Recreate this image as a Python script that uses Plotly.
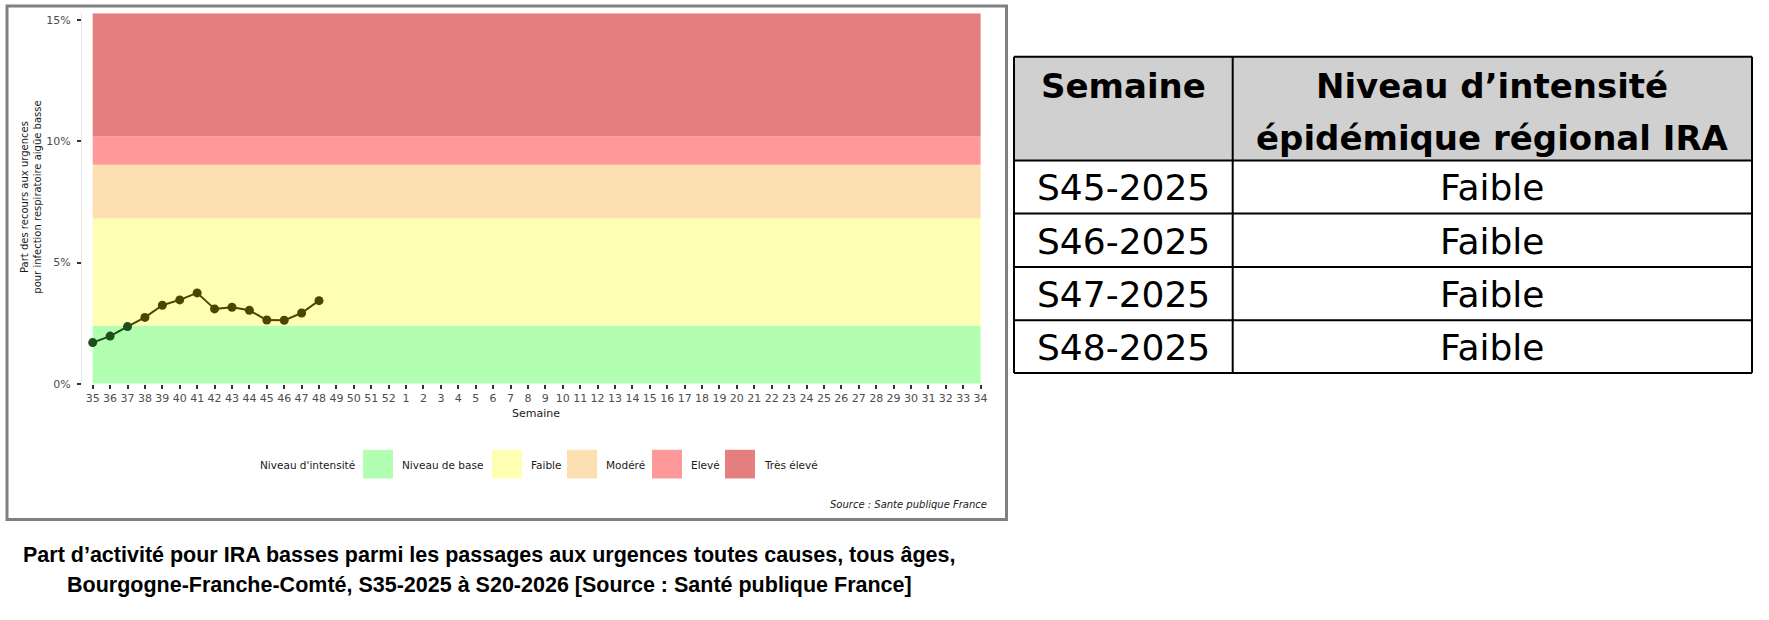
import plotly.graph_objects as go

# ---- data -------------------------------------------------------------
weeks = [str(w) for w in list(range(35, 53)) + list(range(1, 35))]
obs_weeks = [str(w) for w in range(35, 49)]
share_pct = [1.70, 1.97, 2.36, 2.74, 3.24, 3.46, 3.75, 3.09, 3.16, 3.03, 2.63, 2.62, 2.92, 3.43]

level_names = ["Niveau de base", "Faible", "Modéré", "Elevé", "Très élevé"]
level_upper = [2.40, 6.82, 9.03, 10.21, 15.28]
level_colors = ["#B3FFB2", "#FFFFB3", "#FDE0B1", "#FF9898", "#E57E7E"]

y_ticks = [0, 5, 10, 15]
y_ticktext = ["0%", "5%", "10%", "15%"]

tbl_header = ["Semaine", "Niveau d’intensité<br>épidémique régional IRA"]
tbl_weeks = ["S45-2025", "S46-2025", "S47-2025", "S48-2025"]
tbl_levels = ["Faible", "Faible", "Faible", "Faible"]

# ---- canvas helpers ---------------------------------------------------
# the page adds a few pixels below the figure, so the figure is kept a bit
# shorter than the window and everything is placed in absolute pixels
W, H = 1769, 612
def px(x):
    return x / W
def py(y):
    return 1 - y / H

FONT = "DejaVu Sans"
fig = go.Figure()

def text_at(x, y, txt, size, xanchor="center", color="#1a1a1a", family=FONT, **kw):
    fig.add_annotation(x=px(x), y=py(y), xref="paper", yref="paper", text=txt,
                       xanchor=xanchor, yanchor="middle", showarrow=False,
                       font=dict(family=family, size=size, color=color), **kw)

# week positions on a numeric axis, labelled with the week numbers
xpos = list(range(len(weeks)))
obs_x = [weeks.index(w) for w in obs_weeks]

# intensity bands behind the curve
lo = 0
for name, hi, col in zip(level_names, level_upper, level_colors):
    fig.add_shape(type="rect", xref="x", yref="y", x0=xpos[0], x1=xpos[-1],
                  y0=lo, y1=hi, fillcolor=col, line_width=0, layer="below")
    lo = hi

# curve: darker green while the value sits in the base level, olive otherwise
def level_of(v):
    for i, hi in enumerate(level_upper):
        if v < hi:
            return i
    return len(level_upper) - 1

curve_colors = {0: "#1c4f1c", 1: "#4a4600"}
pt_colors = [curve_colors.get(level_of(v), "#4a4600") for v in share_pct]

for i in range(len(share_pct) - 1):
    in_base = level_of(share_pct[i]) == 0 and level_of(share_pct[i + 1]) == 0
    seg_col = curve_colors[0] if in_base else curve_colors[1]
    fig.add_trace(go.Scatter(x=obs_x[i:i + 2], y=share_pct[i:i + 2], mode="lines",
                             line=dict(color=seg_col, width=2), hoverinfo="skip",
                             showlegend=False))
fig.add_trace(go.Scatter(x=obs_x, y=share_pct, mode="markers",
                         marker=dict(color=pt_colors, size=9, line_width=0),
                         showlegend=False))

fig.update_layout(
    width=W, height=H, autosize=False,
    margin=dict(l=0, r=0, t=0, b=0),
    paper_bgcolor="white", plot_bgcolor="white",
    font=dict(family=FONT),
    xaxis=dict(range=[-0.614, len(weeks) - 1 + 0.614], domain=[px(82), px(991.3)],
               tickmode="array", tickvals=xpos, ticktext=weeks,
               ticks="outside", ticklen=4, tickwidth=1.5, tickcolor="#333333",
               tickfont=dict(family=FONT, size=11, color="#4d4d4d"),
               showgrid=False, zeroline=False, showline=False, fixedrange=True),
    yaxis=dict(range=[0, 15.28], domain=[py(388.3), py(13.3)],
               tickmode="array", tickvals=y_ticks, ticktext=y_ticktext,
               ticks="outside", ticklen=4, tickwidth=1.5, tickcolor="#333333",
               ticklabelstandoff=4,
               tickfont=dict(family=FONT, size=11, color="#4d4d4d"),
               showgrid=False, zeroline=False, showline=True,
               linecolor="#e6e6e6", linewidth=1, fixedrange=True),
)

# axis titles
text_at(31, 200, "Part des recours aux urgences<br>pour infection respiratoire aigüe basse", 10,
        textangle=-90)
text_at(536, 418, "Semaine", 11)

# legend of intensity levels
leg_y = 470
text_at(357, leg_y, "Niveau d'intensité", 10.5, xanchor="right")
box_left = [363, 492, 567, 652, 725]
for bx, name, col in zip(box_left, level_names, level_colors):
    fig.add_shape(type="rect", xref="paper", yref="paper", x0=px(bx), x1=px(bx + 30),
                  y0=py(484), y1=py(455), fillcolor=col, line_width=0)
    text_at(bx + 37, leg_y, name, 10.5, xanchor="left")

text_at(989, 510, "<i>Source : Sante publique France</i>", 10, xanchor="right")

# grey frame around the chart panel
fig.add_shape(type="rect", xref="paper", yref="paper", x0=px(7), x1=px(1006.5),
              y0=py(525.5), y1=py(6), line=dict(color="#808080", width=3),
              fillcolor="rgba(0,0,0,0)")

# caption under the chart
cap_lines = ["Part d’activité pour IRA basses parmi les passages aux urgences toutes causes, tous âges,",
             "Bourgogne-Franche-Comté, S35-2025 à S20-2026 [Source : Santé publique France]"]
for txt, yy in zip(cap_lines, [561, 592]):
    text_at(489, yy, "<b>" + txt + "</b>", 21.5, color="black", family="Liberation Sans")

# weekly intensity table, drawn cell by cell
col_x = [1014, 1232.7, 1752]
row_y = [57.3, 162.3, 216, 270, 324, 377.3]
fig.add_shape(type="rect", xref="paper", yref="paper", x0=px(col_x[0]), x1=px(col_x[-1]),
              y0=py(row_y[1]), y1=py(row_y[0]), fillcolor="#D0D0D0", line_width=0)
for yy in row_y:
    fig.add_shape(type="line", xref="paper", yref="paper", x0=px(col_x[0]), x1=px(col_x[-1]),
                  y0=py(yy), y1=py(yy), line=dict(color="black", width=2))
for xx in col_x:
    fig.add_shape(type="line", xref="paper", yref="paper", x0=px(xx), x1=px(xx),
                  y0=py(row_y[-1]), y1=py(row_y[0]), line=dict(color="black", width=2))

line_gap = 53
for c, head in enumerate(tbl_header):
    cx = (col_x[c] + col_x[c + 1]) / 2
    for k, part in enumerate(head.split("<br>")):
        text_at(cx, 87 + k * line_gap, "<b>" + part + "</b>", 34, color="black")

for r, (wk, lv) in enumerate(zip(tbl_weeks, tbl_levels)):
    cy = (row_y[r + 1] + row_y[r + 2]) / 2 + 1
    text_at((col_x[0] + col_x[1]) / 2, cy, wk, 36, color="black")
    text_at((col_x[1] + col_x[2]) / 2, cy, lv, 36, color="black")

fig.write_html("out.html")
